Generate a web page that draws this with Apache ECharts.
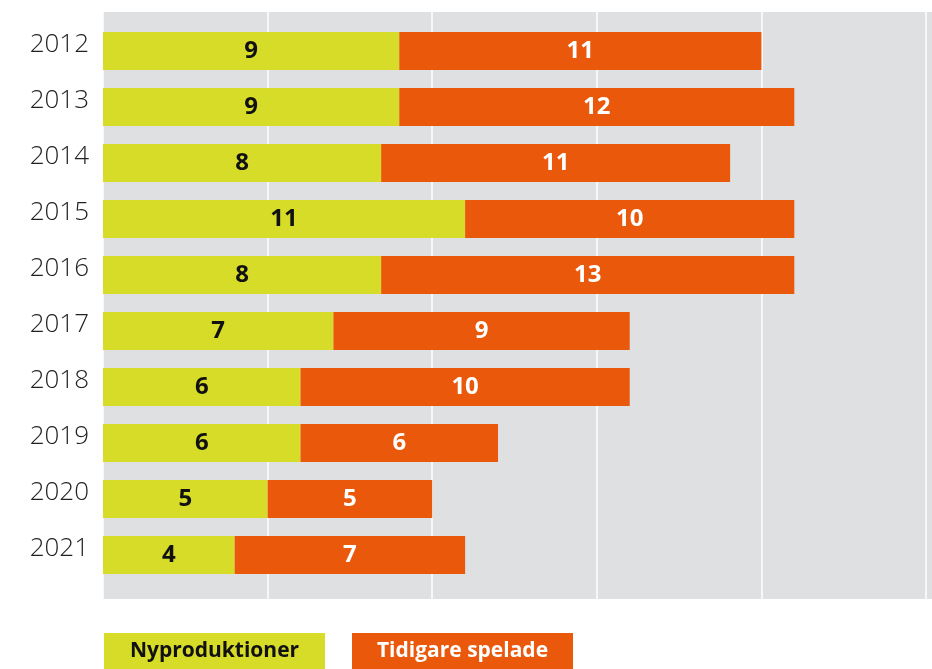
<!DOCTYPE html>
<html>
<head>
<meta charset="UTF-8">
<title>Nyproduktioner och tidigare spelade</title>
<script src="https://cdn.jsdelivr.net/npm/echarts@6/dist/echarts.min.js"></script>
<style>
  html, body {margin:0; padding:0; background:#fff;}
  #chart {width:932px; height:669px;}
</style>
</head>
<body>
<div id="chart"></div>
<script>
// data (2014 and 2016 bars are drawn a bit off the printed integer)
const years = ['2012', '2013', '2014', '2015', '2016', '2017', '2018', '2019', '2020', '2021'];
const nyproduktioner = [9, 9, 8.45, 11, 8.45, 7, 6, 6, 5, 4];
const tidigare = [11, 12, 10.6, 10, 12.55, 9, 10, 6, 5, 7];
const xTicks = [0, 5, 10, 15, 20, 25];

const GREEN = '#d7dc29';
const ORANGE = '#ea580c';
const GREY = '#dfe0e2';
const FONT = '"Open Sans", "Noto Sans", sans-serif';

const chart = echarts.init(document.getElementById('chart'), null, {renderer: 'canvas'});

function roundLabel(p) {
  return Math.round(p.value);
}

const option = {
  animation: false,
  textStyle: {fontFamily: FONT},
  graphic: [{
    type: 'rect', z: -10, silent: true,
    shape: {x: 103, y: 12, width: 829, height: 587},
    style: {fill: GREY}
  }],
  grid: [
    // grid 0: only carries the white vertical lines over the whole grey area
    {left: 103, right: 6, top: 12, bottom: 70},
    // grid 1: the bars
    {left: 103, right: 6, top: 23, bottom: 86}
  ],
  xAxis: [
    {
      gridIndex: 0, type: 'value', min: xTicks[0], max: xTicks[xTicks.length - 1], interval: 5,
      axisLine: {show: false}, axisTick: {show: false}, axisLabel: {show: false},
      splitLine: {show: true, lineStyle: {color: '#ffffff', width: 1.5}}
    },
    {
      gridIndex: 1, type: 'value', min: xTicks[0], max: xTicks[xTicks.length - 1], interval: 5,
      axisLine: {show: false}, axisTick: {show: false}, axisLabel: {show: false},
      splitLine: {show: false}
    }
  ],
  yAxis: [
    {
      gridIndex: 0, type: 'category', data: years, show: false
    },
    {
      gridIndex: 1, type: 'category', data: years, inverse: true,
      axisLine: {show: false}, axisTick: {show: false},
      axisLabel: {
        color: '#222', fontSize: 26, fontWeight: 300, fontFamily: FONT,
        margin: 14, verticalAlign: 'bottom', lineHeight: 12
      }
    }
  ],
  legend: {
    left: 94, top: 628, itemGap: 22, itemWidth: 0, itemHeight: 14,
    icon: 'none', selectedMode: false,
    data: ['Nyproduktioner', 'Tidigare spelade'],
    formatter: function (name) {
      return name === 'Nyproduktioner' ? '{g|' + name + '}' : '{o|' + name + '}';
    },
    textStyle: {
      rich: {
        g: {
          backgroundColor: GREEN, color: '#111', width: 221, height: 37, lineHeight: 37,
          align: 'center', fontSize: 21, fontWeight: 'bold', fontFamily: FONT
        },
        o: {
          backgroundColor: ORANGE, color: '#fff', width: 221, height: 37, lineHeight: 37,
          align: 'center', fontSize: 21, fontWeight: 'bold', fontFamily: FONT
        }
      }
    }
  },
  series: [
    {
      name: 'Nyproduktioner', type: 'bar', stack: 'total',
      xAxisIndex: 1, yAxisIndex: 1, barWidth: 38,
      itemStyle: {color: GREEN},
      label: {
        show: true, position: 'inside', color: '#111', formatter: roundLabel,
        fontSize: 24, fontWeight: 'bold', fontFamily: FONT
      },
      data: nyproduktioner
    },
    {
      name: 'Tidigare spelade', type: 'bar', stack: 'total',
      xAxisIndex: 1, yAxisIndex: 1, barWidth: 38,
      itemStyle: {color: ORANGE},
      label: {
        show: true, position: 'inside', color: '#fff', formatter: roundLabel,
        fontSize: 24, fontWeight: 'bold', fontFamily: FONT
      },
      data: tidigare
    }
  ]
};

chart.setOption(option);
</script>
</body>
</html>
